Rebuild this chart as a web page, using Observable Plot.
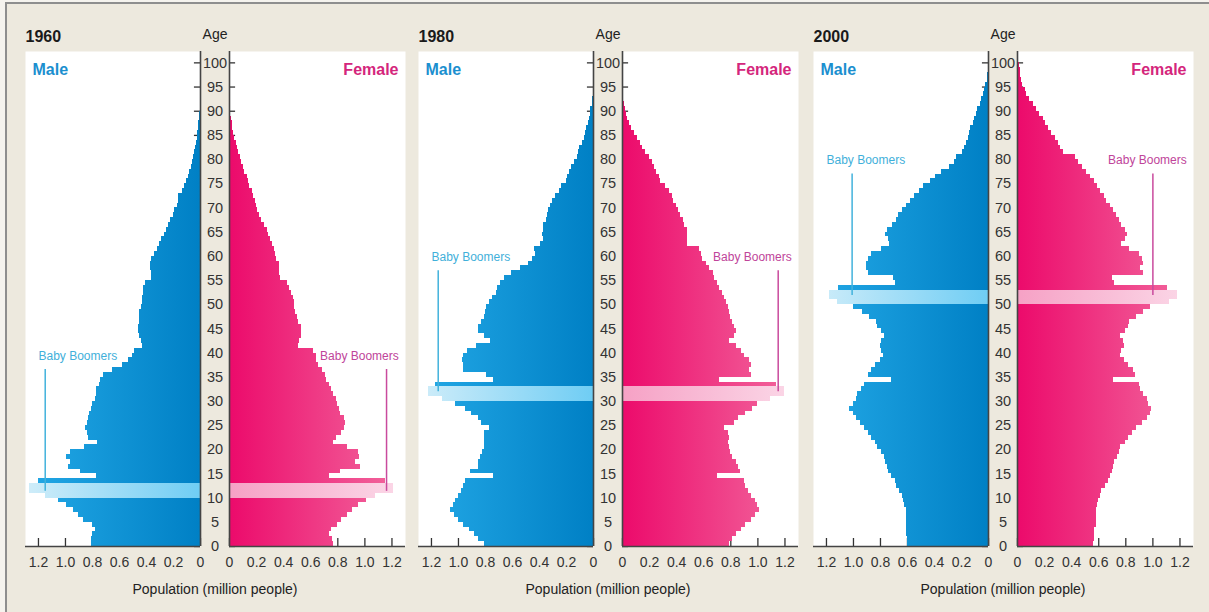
<!DOCTYPE html>
<html><head><meta charset="utf-8">
<script src="https://cdn.jsdelivr.net/npm/d3@7"></script>
<script src="https://cdn.jsdelivr.net/npm/@observablehq/plot@0.6"></script>
<style>
html,body{margin:0;padding:0}
body{background:#f5f3ee;width:1209px;height:612px;overflow:hidden;position:relative;font-family:"Liberation Sans",Arial,Helvetica,sans-serif}
#bg{position:absolute;left:5px;top:2px;width:1210px;height:620px;background:#ede9de;border-top:2px solid #8e8e8e;border-left:2px solid #8e8e8e}
.pl{position:absolute;top:20px}
.pl svg{overflow:visible;display:block}
</style></head>
<body><div id="bg"></div>
<script>
// ---- Data (million people), index = age in years ----
const years = [1960, 1980, 2000];

const male1960 = [0.81,0.81,0.80,0.78,0.80,0.87,0.90,0.94,0.99,1.05,1.15,1.27,1.27,1.20,0.77,0.89,0.98,0.96,0.99,0.96,
0.86,0.76,0.83,0.84,0.85,0.84,0.83,0.82,0.81,0.80,0.78,0.77,0.77,0.75,0.74,0.72,0.65,0.58,0.53,0.50,
0.49,0.43,0.44,0.45,0.46,0.46,0.45,0.45,0.45,0.44,0.43,0.43,0.42,0.42,0.41,0.36,0.36,0.37,0.37,0.36,
0.34,0.32,0.30,0.29,0.27,0.25,0.24,0.22,0.20,0.19,0.17,0.16,0.16,0.13,0.12,0.10,0.09,0.08,0.07,0.06,
0.05,0.045,0.04,0.03,0.025,0.02,0.015,0.012,0.01,0.005];
const female1960 = [0.77,0.76,0.74,0.75,0.80,0.83,0.87,0.91,0.95,1.01,1.08,1.21,1.21,1.15,0.74,0.82,0.97,0.93,0.96,0.95,
0.87,0.77,0.79,0.83,0.85,0.86,0.85,0.82,0.81,0.80,0.79,0.77,0.75,0.74,0.72,0.71,0.69,0.66,0.64,0.64,
0.62,0.51,0.52,0.53,0.53,0.53,0.51,0.50,0.49,0.48,0.48,0.47,0.46,0.44,0.43,0.38,0.37,0.37,0.37,0.35,
0.34,0.33,0.32,0.30,0.29,0.28,0.26,0.24,0.22,0.21,0.20,0.19,0.18,0.17,0.15,0.14,0.13,0.11,0.10,0.09,
0.08,0.07,0.06,0.05,0.04,0.03,0.025,0.02,0.015,0.01,0.005];
const male1980 = [0.81,0.85,0.88,0.92,0.96,1.00,1.03,1.06,1.04,1.02,1.00,0.98,0.96,0.95,0.74,0.91,0.85,0.85,0.84,0.82,
0.81,0.81,0.81,0.81,0.77,0.83,0.85,0.90,0.95,1.02,1.12,1.22,1.22,1.17,0.74,0.79,0.96,0.96,0.97,0.96,
0.93,0.87,0.76,0.81,0.85,0.85,0.83,0.81,0.80,0.79,0.77,0.75,0.72,0.71,0.69,0.66,0.61,0.54,0.48,0.45,
0.43,0.44,0.39,0.37,0.38,0.37,0.37,0.35,0.34,0.33,0.32,0.30,0.28,0.25,0.24,0.20,0.19,0.18,0.16,0.14,
0.12,0.11,0.10,0.08,0.07,0.06,0.05,0.04,0.03,0.025,0.02,0.01,0.005];
const female1980 = [0.79,0.81,0.84,0.88,0.91,0.95,0.98,1.01,1.00,0.98,0.95,0.93,0.91,0.90,0.70,0.87,0.86,0.84,0.81,0.80,
0.79,0.78,0.79,0.78,0.75,0.83,0.86,0.91,0.96,1.00,1.09,1.20,1.20,1.14,0.72,0.95,0.94,0.95,0.94,0.90,
0.88,0.84,0.79,0.83,0.84,0.83,0.81,0.80,0.79,0.78,0.77,0.75,0.74,0.72,0.70,0.68,0.67,0.64,0.62,0.59,
0.58,0.57,0.48,0.48,0.48,0.48,0.46,0.45,0.43,0.41,0.40,0.38,0.37,0.35,0.32,0.28,0.27,0.25,0.24,0.22,
0.20,0.17,0.15,0.13,0.11,0.09,0.07,0.05,0.04,0.03,0.02,0.015,0.01,0.005];
const male2000 = [0.60,0.60,0.61,0.61,0.61,0.61,0.61,0.61,0.62,0.63,0.64,0.66,0.68,0.69,0.72,0.74,0.75,0.76,0.77,0.79,
0.82,0.84,0.87,0.89,0.92,0.95,0.98,1.00,1.03,1.00,0.98,0.97,0.94,0.92,0.72,0.89,0.87,0.84,0.80,0.78,
0.79,0.80,0.79,0.77,0.79,0.82,0.83,0.88,0.93,1.00,1.12,1.18,1.18,1.11,0.69,0.70,0.89,0.90,0.90,0.89,
0.87,0.79,0.73,0.74,0.76,0.75,0.71,0.68,0.67,0.64,0.61,0.58,0.55,0.51,0.48,0.43,0.39,0.35,0.29,0.25,
0.24,0.19,0.18,0.16,0.15,0.14,0.13,0.11,0.10,0.09,0.08,0.06,0.05,0.04,0.03,0.02,0.01,0.005];
const female2000 = [0.56,0.57,0.57,0.57,0.58,0.58,0.58,0.58,0.59,0.60,0.61,0.62,0.65,0.67,0.69,0.70,0.71,0.72,0.74,0.75,
0.76,0.80,0.82,0.85,0.88,0.92,0.96,0.98,0.99,0.97,0.96,0.93,0.91,0.90,0.71,0.87,0.86,0.82,0.79,0.76,
0.77,0.79,0.78,0.76,0.80,0.82,0.83,0.88,0.93,0.98,1.12,1.18,1.18,1.11,0.72,0.70,0.93,0.91,0.93,0.92,
0.90,0.83,0.77,0.80,0.81,0.80,0.77,0.75,0.73,0.71,0.69,0.66,0.64,0.61,0.59,0.57,0.54,0.51,0.48,0.45,
0.43,0.34,0.32,0.30,0.28,0.25,0.23,0.21,0.19,0.16,0.14,0.12,0.09,0.07,0.06,0.04,0.03,0.025,0.02,0.015,0.01];

const maleData = [male1960, male1980, male2000];
const femaleData = [female1960, female1980, female2000];

// Baby-boomer cohort (ages highlighted) and annotation (ages / values)
const boomAges = [[10,11,12],[30,31,32],[50,51,52]];
const boomLabelAge = [39.3, 59.8, 79.8];
const boomLineTop = [36.6, 57, 77];
const boomLineBottom = [11.4, 32, 51.9];
const boomLineMale = [1.15, 1.15, 1.01];
const boomLineFemale = [1.16, 1.15, 1.0];

const popTicks = [0, 0.2, 0.4, 0.6, 0.8, 1.0, 1.2];
const ageTicks = d3.range(0, 101, 5);
const tickLabel = d => d === 0 ? "0" : d.toFixed(1);

// ---- Drawing ----
const panelLeft = [25, 418, 813];
const FONT = '"Liberation Sans", Arial, Helvetica, sans-serif';

function gradient(id, c0, c1) {
  return (index, scales) => {
    const defs = d3.create("svg:defs");
    const g = defs.append("linearGradient").attr("id", id)
      .attr("gradientUnits", "userSpaceOnUse")
      .attr("x1", scales.x(0)).attr("x2", scales.x(1.25)).attr("y1", 0).attr("y2", 0);
    g.append("stop").attr("offset", 0).attr("stop-color", c0);
    g.append("stop").attr("offset", 1).attr("stop-color", c1);
    return defs.node();
  };
}

function place(svg, left) {
  const div = document.createElement("div");
  div.className = "pl";
  div.style.left = left + "px";
  div.appendChild(svg);
  document.body.appendChild(div);
}

const T = {lineAnchor: "middle"};

years.forEach((yr, i) => {
  const boom = new Set(boomAges[i]);
  const mRows = maleData[i].map((v, a) => ({age: a, v}));
  const fRows = femaleData[i].map((v, a) => ({age: a, v}));
  const ann = [{top: boomLineTop[i], bottom: boomLineBottom[i], lab: boomLabelAge[i], xm: boomLineMale[i], xf: boomLineFemale[i]}];
  const common = {
    height: 585, marginTop: 31, marginBottom: 59,
    y: {domain: [0, 102.35], axis: null},
    style: {background: "transparent", fontFamily: FONT, overflow: "visible"}
  };
  const barOpts = (fill) => ({y1: d => d.age, y2: d => d.age + 1, x1: 0, x2: d => d.v, fill, inset: 0, shapeRendering: "crispEdges"});

  const male = Plot.plot({
    ...common,
    width: 204, marginLeft: 0, marginRight: 29,
    x: {domain: [0, 1.296], reverse: true, axis: null},
    marks: [
      gradient("gm" + yr, "#0080c5", "#22a7e5"),
      gradient("gmh" + yr, "#6fcdf4", "#cdecf9"),
      Plot.frame({fill: "white", stroke: null}),
      Plot.ruleX(popTicks, {x: d => d, y1: 0, y2: 1.65, stroke: "#333", strokeWidth: 1.3}),
      Plot.ruleY(ageTicks, {y: d => d, x1: 0, x2: 0.045, stroke: "#333", strokeWidth: 1.3}),
      Plot.rectX(mRows.filter(d => !boom.has(d.age)), barOpts(`url(#gm${yr})`)),
      Plot.rectX(mRows.filter(d => boom.has(d.age)), barOpts(`url(#gmh${yr})`)),
      Plot.ruleX([0], {stroke: "#444", strokeWidth: 1.6}),
      Plot.ruleY([0], {stroke: "#444", strokeWidth: 1.6}),
      Plot.ruleX(ann, {x: d => d.xm, y1: d => d.bottom, y2: d => d.top, stroke: "#42b2dc", strokeWidth: 1.5}),
      Plot.text(ann, {...T, x: 1.2, y: d => d.lab, text: d => "Baby Boomers", textAnchor: "start", fill: "#3fb0da", fontSize: 12}),
      Plot.text(popTicks, {...T, x: d => d, frameAnchor: "bottom", dy: 16, text: tickLabel, textAnchor: "middle", fill: "#333", fontSize: 14}),
      Plot.text(ageTicks, {...T, y: d => d, frameAnchor: "right", dx: 14.5, text: d => String(d), textAnchor: "middle", fill: "#333", fontSize: 14.5}),
      Plot.text([`Age`], {...T, frameAnchor: "top-right", dx: 14.5, dy: -17, text: d => d, textAnchor: "middle", fill: "#222", fontSize: 14}),
      Plot.text([String(yr)], {...T, frameAnchor: "top-left", dy: -15, text: d => d, textAnchor: "start", fill: "#1a1a1a", fontSize: 16, fontWeight: "bold"}),
      Plot.text([`Male`], {...T, frameAnchor: "top-left", dx: 7, dy: 18, text: d => d, textAnchor: "start", fill: "#1b8fcf", fontSize: 16, fontWeight: "bold"}),
      Plot.text([`Population (million people)`], {...T, frameAnchor: "bottom-right", dx: 14.5, dy: 43, text: d => d, textAnchor: "middle", fill: "#222", fontSize: 14})
    ]
  });

  const female = Plot.plot({
    ...common,
    width: 176, marginLeft: 0, marginRight: 0,
    x: {domain: [0, 1.3], axis: null},
    marks: [
      gradient("gf" + yr, "#ec0a6b", "#f2669d"),
      gradient("gfh" + yr, "#f6a1c5", "#fbd7e7"),
      Plot.frame({fill: "white", stroke: null}),
      Plot.ruleX(popTicks, {x: d => d, y1: 0, y2: 1.65, stroke: "#333", strokeWidth: 1.3}),
      Plot.ruleY(ageTicks, {y: d => d, x1: 0, x2: 0.045, stroke: "#333", strokeWidth: 1.3}),
      Plot.rectX(fRows.filter(d => !boom.has(d.age)), barOpts(`url(#gf${yr})`)),
      Plot.rectX(fRows.filter(d => boom.has(d.age)), barOpts(`url(#gfh${yr})`)),
      Plot.ruleX([0], {stroke: "#444", strokeWidth: 1.6}),
      Plot.ruleY([0], {stroke: "#444", strokeWidth: 1.6}),
      Plot.ruleX(ann, {x: d => d.xf, y1: d => d.bottom, y2: d => d.top, stroke: "#c94a9d", strokeWidth: 1.5}),
      Plot.text(ann, {...T, x: 1.25, y: d => d.lab, text: d => "Baby Boomers", textAnchor: "end", fill: "#c0449a", fontSize: 12}),
      Plot.text(popTicks, {...T, x: d => d, frameAnchor: "bottom", dy: 16, text: tickLabel, textAnchor: "middle", fill: "#333", fontSize: 14}),
      Plot.text([`Female`], {...T, frameAnchor: "top-right", dx: -7, dy: 18, text: d => d, textAnchor: "end", fill: "#d4267c", fontSize: 16, fontWeight: "bold"})
    ]
  });

  place(male, panelLeft[i]);
  place(female, panelLeft[i] + 204);
});
</script>
</body></html>
